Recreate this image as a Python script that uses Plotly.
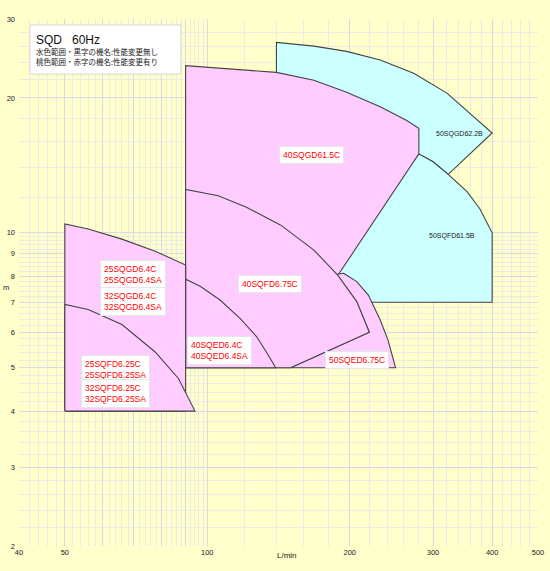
import math
import plotly.graph_objects as go

# ---------------- data (flow L/min, head m) ----------------
# 50SQGD62.2B (cyan)
gd22b_q = [140, 140, 168, 197, 232, 273, 321, 359, 400, 323, 300, 280, 140]
gd22b_h = [20.0, 26.6, 26.1, 25.4, 24.3, 22.7, 20.5, 18.5, 16.7, 13.5, 14.4, 15.0, 20.0]
# 50SQFD61.5B (cyan)
fd15b_q = [280, 300, 323, 354, 377, 400, 400, 160, 280]
fd15b_h = [15.0, 14.4, 13.5, 12.35, 11.3, 10.0, 7.0, 7.0, 15.0]
# 40SQGD61.5C (pink)
gd15c_q = [90, 90, 140, 168, 197, 232, 264, 280, 280, 189, 150, 90]
gd15c_h = [5.0, 23.6, 22.8, 21.9, 20.6, 19.1, 17.8, 17.1, 15.0, 8.05, 5.0, 5.0]
# 50SQED6.75C (pink)
ed75_q = [194, 207, 219, 232, 241, 250, 150, 220, 207, 188, 194]
ed75_h = [8.12, 7.78, 7.26, 6.39, 5.76, 5.0, 5.0, 6.0, 7.02, 8.08, 8.12]
# 40SQFD6.75C (pink)
fd75_q = [90, 90, 105.5, 121, 143, 168, 188, 207, 220, 150, 90]
fd75_h = [5.0, 12.5, 12.1, 11.4, 10.4, 9.15, 8.08, 7.02, 6.0, 5.0, 5.0]
# 40SQED6.4C (pink)
ed64_q = [90, 90, 96.6, 106.4, 117.3, 127.2, 134.6, 139.5, 90]
ed64_h = [5.0, 7.88, 7.6, 7.08, 6.44, 5.86, 5.33, 5.0, 5.0]
# 25/32SQGD6.4C (pink)
sgd_q = [50, 50, 56, 66, 77.6, 90, 90, 50]
sgd_h = [4.0, 10.46, 10.2, 9.68, 9.1, 8.47, 4.0, 4.0]
# 25/32SQFD6.25C (pink)
sfd_q = [50, 50, 56, 66, 77.6, 86.9, 94.2, 50]
sfd_h = [4.0, 6.92, 6.74, 6.24, 5.42, 4.73, 4.0, 4.0]

# labels: text, flow, head, colour-kind
label_text = ["40SQGD61.5C", "50SQGD62.2B", "50SQFD61.5B", "40SQFD6.75C",
              "50SQED6.75C", "40SQED6.4C<br>40SQED6.4SA",
              "25SQGD6.4C<br>25SQGD6.4SA", "32SQGD6.4C<br>32SQGD6.4SA",
              "25SQFD6.25C<br>25SQFD6.25SA", "32SQFD6.25C<br>32SQFD6.25SA"]
label_q = [166, 342, 329, 136, 207, 106, 69.5, 69.5, 64, 64]
label_h = [14.95, 16.6, 9.85, 7.67, 5.19, 5.45, 8.09, 7.04, 4.96, 4.37]
label_red = [True, False, False, True, True, True, True, True, True, True]

x_major = [40, 50, 60, 70, 80, 90, 100, 200, 300, 400, 500]
x_major_text = ["40", "50", "", "", "", "", "100", "200", "300", "400", "500"]
y_major = [2, 3, 4, 5, 6, 7, 8, 9, 10, 20, 30]
y_major_text = ["2", "3", "4", "5", "6", "7", "8", "9", "10", "20", "30"]

x_minor = [v for v in range(42, 100, 2) if v % 10] + [v for v in range(120, 500, 20) if v % 100]
y_minor = [round(2 + 0.2 * i, 1) for i in range(41) if (2 + 0.2 * i) % 1 > 0.01 and (2 + 0.2 * i) % 1 < 0.99] + \
          [v for v in range(12, 30, 2) if v % 10]

# ---------------- styling ----------------
BG = "#FFFFCC"
CYAN = "#CCFFFF"
PINK = "#FFCCFF"
EDGE = "#444444"
FONT = "Arial, 'Liberation Sans', 'Noto Sans CJK JP', sans-serif"
JFONT = "'Noto Sans CJK JP', Arial, sans-serif"

fig = go.Figure()

regions = [
    (gd22b_q, gd22b_h, CYAN),
    (fd15b_q, fd15b_h, CYAN),
    (gd15c_q, gd15c_h, PINK),
    (ed75_q, ed75_h, PINK),
    (fd75_q, fd75_h, PINK),
    (ed64_q, ed64_h, PINK),
    (sgd_q, sgd_h, PINK),
    (sfd_q, sfd_h, PINK),
]
for q, h, c in regions:
    fig.add_trace(go.Scatter(x=q, y=h, mode="lines", fill="toself", fillcolor=c,
                             line=dict(color=EDGE, width=1.1), hoverinfo="skip",
                             showlegend=False))

annotations = []
for t, q, h, red in zip(label_text, label_q, label_h, label_red):
    if red:
        annotations.append(dict(x=math.log10(q), y=math.log10(h), xref="x", yref="y",
                                text=t, showarrow=False, align="left",
                                font=dict(family=FONT, size=8.5, color="#FF0000"),
                                bgcolor="#FFFFFF", bordercolor="#E6E6E6", borderwidth=1,
                                borderpad=3))
    else:
        annotations.append(dict(x=math.log10(q), y=math.log10(h), xref="x", yref="y",
                                text=t, showarrow=False,
                                font=dict(family=FONT, size=7, color="#222222")))

# title box texts
annotations.append(dict(x=0.029, y=0.960, xref="paper", yref="paper", xanchor="left",
                        yanchor="middle", text="SQD\u00a0\u00a0\u00a060Hz", showarrow=False,
                        font=dict(family=FONT, size=12, color="#111111")))
annotations.append(dict(x=0.029, y=0.9375, xref="paper", yref="paper", xanchor="left",
                        yanchor="middle", text="水色範囲・黒字の機名:性能変更無し",
                        showarrow=False, font=dict(family=JFONT, size=7.5, color="#222222")))
annotations.append(dict(x=0.029, y=0.920, xref="paper", yref="paper", xanchor="left",
                        yanchor="middle", text="桃色範囲・赤字の機名:性能変更有り",
                        showarrow=False, font=dict(family=JFONT, size=7.5, color="#222222")))
# axis titles
annotations.append(dict(x=-0.034, y=0.491, xref="paper", yref="paper", text="m",
                        showarrow=False, font=dict(family=FONT, size=7.5, color="#222222")))
annotations.append(dict(x=0.516, y=-0.030, xref="paper", yref="paper", text="L/min",
                        showarrow=False, font=dict(family=FONT, size=8, color="#222222")))

shapes = [dict(type="rect", xref="paper", yref="paper", x0=0.0212, x1=0.312,
               y0=0.8956, y1=0.9886, fillcolor="#FFFFFF",
               line=dict(color="#D8D8D8", width=1), layer="above")]

fig.update_layout(
    width=550, height=571,
    margin=dict(l=19, r=12, t=19, b=25, autoexpand=False),
    paper_bgcolor=BG, plot_bgcolor=BG,
    showlegend=False, hovermode=False,
    annotations=annotations, shapes=shapes,
    font=dict(family=FONT, size=7.5, color="#222222"),
)
fig.update_xaxes(type="log", range=[math.log10(40), math.log10(500)], automargin=False,
                 tickmode="array", tickvals=x_major, ticktext=x_major_text,
                 showgrid=True, gridcolor="#D8D8EA", gridwidth=1,
                 zeroline=False, showline=False, ticks="", ticklen=0,
                 tickfont=dict(size=7.5, color="#222222"),
                 minor=dict(tickmode="array", tickvals=x_minor, showgrid=True,
                            gridcolor="#EBEBE4", gridwidth=1, ticks=""))
fig.update_yaxes(type="log", range=[math.log10(2), math.log10(30)], automargin=False,
                 tickmode="array", tickvals=y_major, ticktext=y_major_text,
                 showgrid=True, gridcolor="#D8D8EA", gridwidth=1,
                 zeroline=False, showline=False, ticks="", ticklen=0,
                 ticklabelstandoff=3,
                 tickfont=dict(size=7.5, color="#222222"),
                 minor=dict(tickmode="array", tickvals=y_minor, showgrid=True,
                            gridcolor="#EBEBE4", gridwidth=1, ticks=""))

fig.write_html("out.html",
               config={"displayModeBar": False},
               post_script="document.body.style.margin='0';"
                           "document.body.style.padding='0';"
                           "document.body.style.background='#FFFFCC';"
                           "document.body.style.overflow='hidden';")
